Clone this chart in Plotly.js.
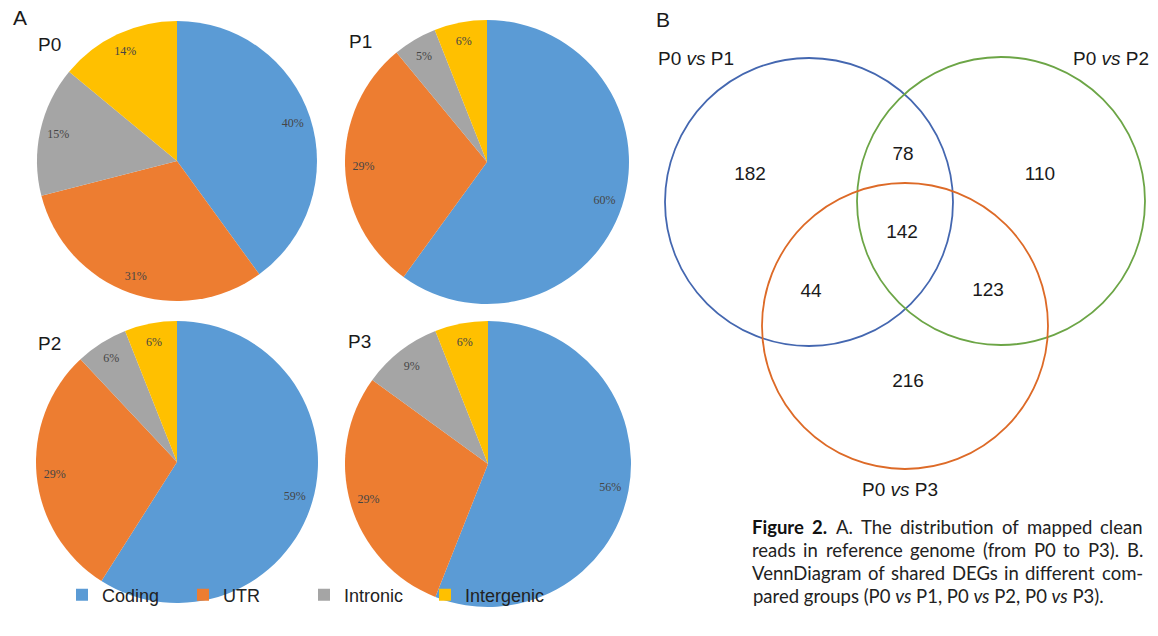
<!DOCTYPE html>
<html>
<head>
<meta charset="utf-8">
<script src="https://cdn.plot.ly/plotly-3.0.1.min.js"></script>
<style>
  html, body { margin: 0; padding: 0; background: #fff; }
  #fig { width: 1158px; height: 636px; }
</style>
</head>
<body>
<div id="fig"></div>
<script>
// ---- data ----
const groups = ['P0', 'P1', 'P2', 'P3'];
const categories = ['Coding', 'UTR', 'Intronic', 'Intergenic'];
const shareP0 = [40, 31, 15, 14];
const shareP1 = [60, 29, 5, 6];
const shareP2 = [59, 29, 6, 6];
const shareP3 = [56, 29, 9, 6];
const vennSetNames = ['P0 <i>vs</i> P1', 'P0 <i>vs</i> P2', 'P0 <i>vs</i> P3'];
const vennRegionCounts = [182, 78, 110, 142, 44, 123, 216];

// ---- layout helpers (pixel frame of the page) ----
const W = 1158, H = 636;
const sliceColors = ['#5b9bd5', '#ed7d31', '#a5a5a5', '#ffc000'];
const pieFrames = [
  { cx: 177, cy: 161, r: 140, lx: 49, ly: 44 },
  { cx: 487, cy: 162, r: 142, lx: 360, ly: 41 },
  { cx: 177, cy: 462, r: 141, lx: 49, ly: 343 },
  { cx: 488, cy: 464, r: 143, lx: 359, ly: 341 }
];
const shares = [shareP0, shareP1, shareP2, shareP3];

function pieDomain(f) {
  return {
    x: [(f.cx - f.r) / W, (f.cx + f.r) / W],
    y: [1 - (f.cy + f.r) / H, 1 - (f.cy - f.r) / H]
  };
}

const traces = [];
shares.forEach((vals, i) => {
  const d = pieDomain(pieFrames[i]);
  // filled pie
  traces.push({
    type: 'pie', labels: categories, values: vals, domain: d,
    sort: false, direction: 'clockwise', rotation: 0,
    marker: { colors: sliceColors, line: { width: 0 } },
    textinfo: 'none', hoverinfo: 'label+value',
    showlegend: i === 0, name: groups[i]
  });
  // ring carrying the percentage labels near the rim
  traces.push({
    type: 'pie', labels: categories, values: vals, domain: d, hole: 0.74,
    sort: false, direction: 'clockwise', rotation: 0,
    marker: { colors: ['rgba(0,0,0,0)', 'rgba(0,0,0,0)', 'rgba(0,0,0,0)', 'rgba(0,0,0,0)'], line: { width: 0 } },
    texttemplate: '%{value}%', textposition: 'inside',
    insidetextorientation: 'horizontal',
    insidetextfont: { family: 'Liberation Serif, DejaVu Serif, serif', size: 12, color: '#454545' },
    hoverinfo: 'skip', showlegend: false
  });
});

// Venn circles and region counts
const vennCircles = [
  { cx: 809, cy: 202, r: 144, color: '#4467b0' },
  { cx: 1001, cy: 201, r: 144, color: '#6ca546' },
  { cx: 905, cy: 326, r: 143, color: '#dd6a27' }
];
const vennCountPos = [[750, 175], [903, 155], [1040, 175], [902, 233], [811, 292], [988, 291], [908, 382]];
const vennSetPos = [[696, 58], [1111, 58], [900, 489]];

traces.push({
  type: 'scatter', mode: 'text', xaxis: 'x', yaxis: 'y',
  x: vennCountPos.map(p => p[0]), y: vennCountPos.map(p => p[1]),
  text: vennRegionCounts.map(String),
  textposition: 'middle center',
  textfont: { family: 'Liberation Sans, Arial, sans-serif', size: 19, color: '#1a1a1a' },
  hoverinfo: 'skip', showlegend: false
});

const shapes = vennCircles.map(c => ({
  type: 'circle', xref: 'x', yref: 'y',
  x0: c.cx - c.r, x1: c.cx + c.r, y0: c.cy - c.r, y1: c.cy + c.r,
  line: { color: c.color, width: 1.8 }, fillcolor: 'rgba(0,0,0,0)'
}));

const sansFont = 'Liberation Sans, Arial, sans-serif';
const annotations = [];
function addText(x, y, text, size, extra) {
  annotations.push(Object.assign({
    xref: 'x', yref: 'y', x: x, y: y, text: text, showarrow: false,
    xanchor: 'center', yanchor: 'middle',
    font: { family: sansFont, size: size, color: '#1a1a1a' }
  }, extra || {}));
}
addText(20, 17, 'A', 21);
addText(663, 19, 'B', 21);
pieFrames.forEach((f, i) => addText(f.lx, f.ly, groups[i], 19));
vennSetNames.forEach((t, i) => addText(vennSetPos[i][0], vennSetPos[i][1], t, 19));

// Figure caption, justified word by word
const capFont = 'Lato, Liberation Sans, sans-serif';
const capSize = 18.5;
const capLeft = 752, capRight = 1143;
const capLines = [
  { y: 527, words: [['Figure', true], ['2.', true], ['A.'], ['The'], ['distribution'], ['of'], ['mapped'], ['clean']], justify: true },
  { y: 550, words: 'reads in reference genome (from P0 to P3). B.'.split(' ').map(w => [w]), justify: true },
  { y: 573, words: 'VennDiagram of shared DEGs in different com-'.split(' ').map(w => [w]), justify: true },
  { y: 596, words: [['pared groups (P0 <i>vs</i> P1, P0 <i>vs</i> P2, P0 <i>vs</i> P3).']], justify: false }
];
const ctx = document.createElement('canvas').getContext('2d');
function measure(w, bold) {
  ctx.font = (bold ? 'bold ' : '') + capSize + 'px Lato, "Liberation Sans", sans-serif';
  return ctx.measureText(w.replace(/<[^>]+>/g, '')).width;
}
capLines.forEach(line => {
  if (!line.justify) {
    addText(capLeft, line.y, line.words[0][0], capSize,
      { xanchor: 'left', borderpad: 0, font: { family: capFont, size: capSize, color: '#222' } });
    return;
  }
  const widths = line.words.map(w => measure(w[0], w[1]));
  const total = widths.reduce((a, b) => a + b, 0);
  const gap = (capRight - capLeft - total) / (line.words.length - 1);
  let x = capLeft;
  line.words.forEach((w, k) => {
    const txt = w[1] ? '<b>' + w[0] + '</b>' : w[0];
    addText(x + widths[k] / 2, line.y, txt, capSize,
      { borderpad: 0, font: { family: capFont, size: capSize, color: w[1] ? '#111' : '#222' } });
    x += widths[k] + gap;
  });
});

const layout = {
  width: W, height: H,
  margin: { l: 0, r: 0, t: 0, b: 0 },
  paper_bgcolor: '#fff', plot_bgcolor: 'rgba(0,0,0,0)',
  xaxis: { range: [0, W], visible: false, fixedrange: true, domain: [0, 1] },
  yaxis: { range: [H, 0], visible: false, fixedrange: true, domain: [0, 1] },
  shapes: shapes,
  annotations: annotations,
  showlegend: true,
  legend: {
    orientation: 'h', x: 62 / W, y: 1 - 595 / H, xanchor: 'left', yanchor: 'middle',
    entrywidth: 76, entrywidthmode: 'pixels',
    font: { family: sansFont, size: 18, color: '#222' },
    bgcolor: 'rgba(0,0,0,0)', traceorder: 'normal', itemclick: false
  }
};

Plotly.newPlot('fig', traces, layout, { staticPlot: true, displayModeBar: false });
</script>
</body>
</html>
